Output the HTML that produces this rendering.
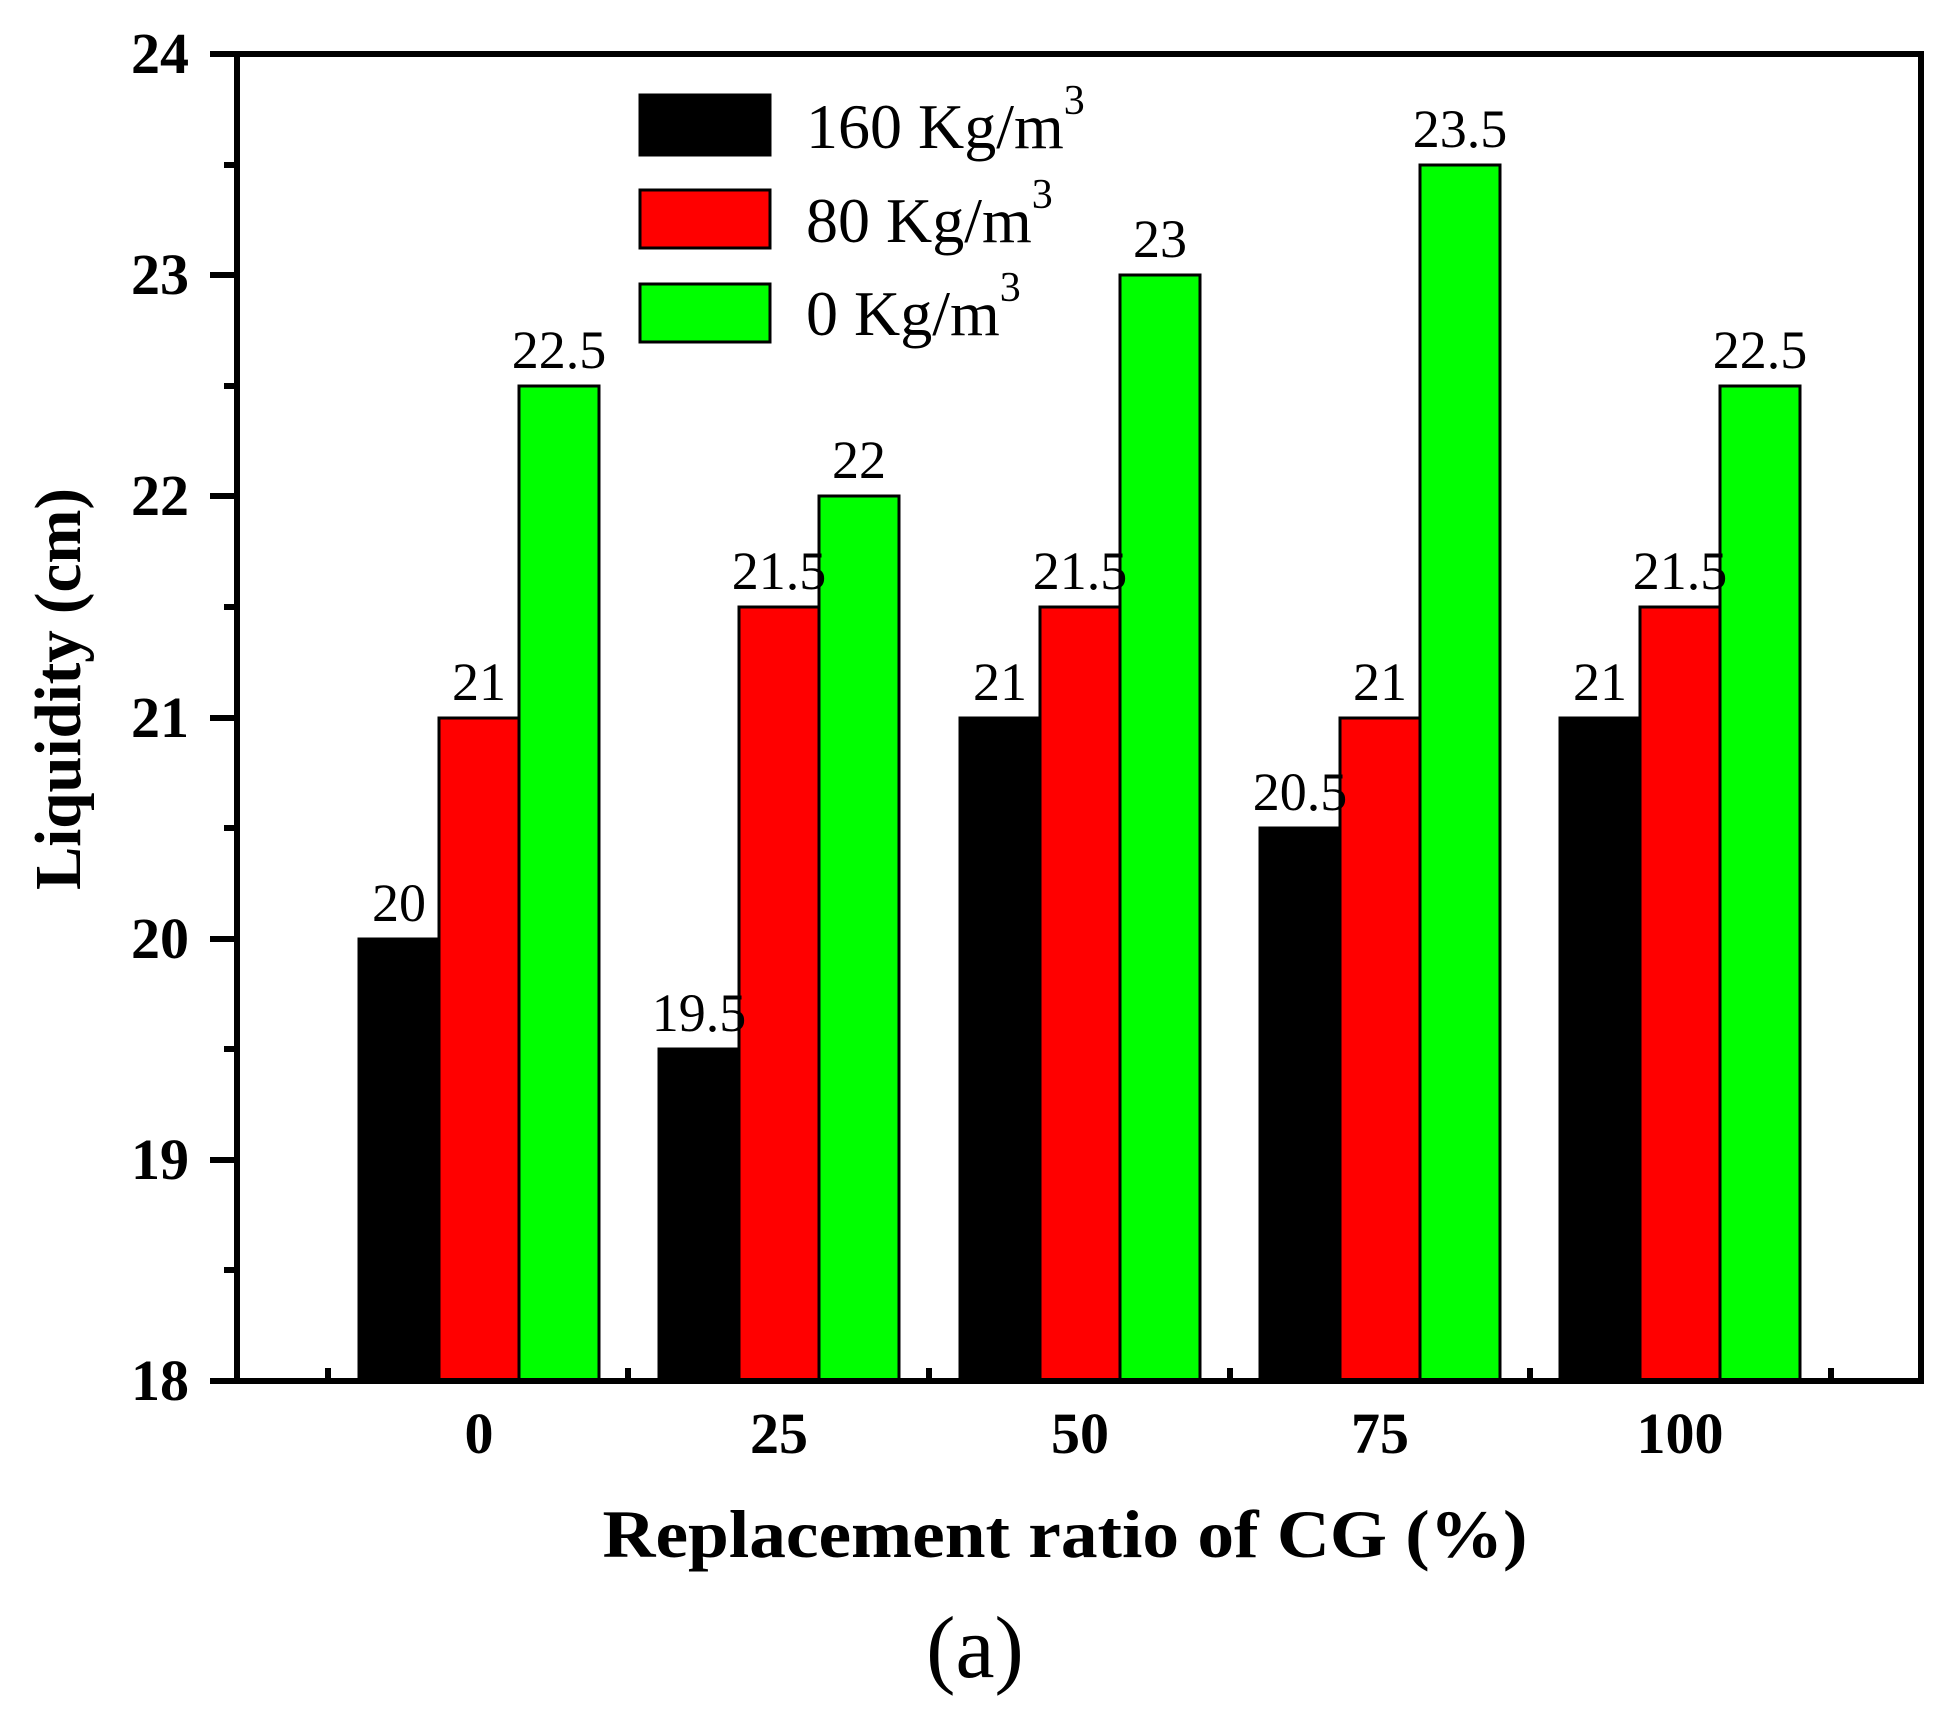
<!DOCTYPE html>
<html><head><meta charset="utf-8"><style>html,body{margin:0;padding:0;background:#fff}svg{display:block}</style></head>
<body>
<svg width="1960" height="1713" viewBox="0 0 1960 1713" xmlns="http://www.w3.org/2000/svg" font-family="'Liberation Serif', serif">
<rect width="1960" height="1713" fill="#fff"/>
<g stroke="#000" stroke-width="3">
<rect x="359" y="939" width="80" height="442" fill="#000"/>
<rect x="439" y="718" width="80" height="663" fill="#f00"/>
<rect x="519" y="386" width="80" height="995" fill="#0f0"/>
<rect x="659" y="1049" width="80" height="332" fill="#000"/>
<rect x="739" y="607" width="80" height="774" fill="#f00"/>
<rect x="819" y="496" width="80" height="885" fill="#0f0"/>
<rect x="960" y="718" width="80" height="663" fill="#000"/>
<rect x="1040" y="607" width="80" height="774" fill="#f00"/>
<rect x="1120" y="275" width="80" height="1106" fill="#0f0"/>
<rect x="1260" y="828" width="80" height="553" fill="#000"/>
<rect x="1340" y="718" width="80" height="663" fill="#f00"/>
<rect x="1420" y="165" width="80" height="1216" fill="#0f0"/>
<rect x="1560" y="718" width="80" height="663" fill="#000"/>
<rect x="1640" y="607" width="80" height="774" fill="#f00"/>
<rect x="1720" y="386" width="80" height="995" fill="#0f0"/>
</g>
<rect x="237" y="54" width="1684" height="1327" fill="none" stroke="#000" stroke-width="6"/>
<g stroke="#000" stroke-width="6">
<line x1="210" y1="54" x2="237" y2="54"/>
<line x1="210" y1="275" x2="237" y2="275"/>
<line x1="210" y1="496" x2="237" y2="496"/>
<line x1="210" y1="718" x2="237" y2="718"/>
<line x1="210" y1="939" x2="237" y2="939"/>
<line x1="210" y1="1160" x2="237" y2="1160"/>
<line x1="210" y1="1381" x2="237" y2="1381"/>
<line x1="224" y1="165" x2="237" y2="165"/>
<line x1="224" y1="386" x2="237" y2="386"/>
<line x1="224" y1="607" x2="237" y2="607"/>
<line x1="224" y1="828" x2="237" y2="828"/>
<line x1="224" y1="1049" x2="237" y2="1049"/>
<line x1="224" y1="1270" x2="237" y2="1270"/>
<line x1="328" y1="1381" x2="328" y2="1368"/>
<line x1="628" y1="1381" x2="628" y2="1368"/>
<line x1="929" y1="1381" x2="929" y2="1368"/>
<line x1="1230" y1="1381" x2="1230" y2="1368"/>
<line x1="1530" y1="1381" x2="1530" y2="1368"/>
<line x1="1831" y1="1381" x2="1831" y2="1368"/>
</g>
<g font-size="58" font-weight="bold" text-anchor="end">
<text x="189" y="73">24</text>
<text x="189" y="294">23</text>
<text x="189" y="515">22</text>
<text x="189" y="737">21</text>
<text x="189" y="958">20</text>
<text x="189" y="1179">19</text>
<text x="189" y="1400">18</text>
</g>
<g font-size="58" font-weight="bold" text-anchor="middle">
<text x="479" y="1453">0</text>
<text x="779" y="1453">25</text>
<text x="1080" y="1453">50</text>
<text x="1380" y="1453">75</text>
<text x="1680" y="1453">100</text>
</g>
<g font-size="54" text-anchor="middle">
<text x="399" y="921">20</text>
<text x="479" y="700">21</text>
<text x="559" y="368">22.5</text>
<text x="699" y="1031">19.5</text>
<text x="779" y="589">21.5</text>
<text x="859" y="478">22</text>
<text x="1000" y="700">21</text>
<text x="1080" y="589">21.5</text>
<text x="1160" y="257">23</text>
<text x="1300" y="810">20.5</text>
<text x="1380" y="700">21</text>
<text x="1460" y="147">23.5</text>
<text x="1600" y="700">21</text>
<text x="1680" y="589">21.5</text>
<text x="1760" y="368">22.5</text>
</g>
<rect x="640" y="95" width="130" height="60" fill="#000" stroke="#000" stroke-width="3"/>
<rect x="640" y="190" width="130" height="58" fill="#f00" stroke="#000" stroke-width="3"/>
<rect x="640" y="284" width="130" height="58" fill="#0f0" stroke="#000" stroke-width="3"/>
<g font-size="64">
<text x="806" y="148">160 Kg/m<tspan font-size="42" dy="-34">3</tspan></text>
<text x="806" y="242">80 Kg/m<tspan font-size="42" dy="-34">3</tspan></text>
<text x="806" y="335">0 Kg/m<tspan font-size="42" dy="-34">3</tspan></text>
</g>
<text x="1065" y="1557" font-size="68" font-weight="bold" text-anchor="middle" textLength="925" lengthAdjust="spacingAndGlyphs">Replacement ratio of CG (%)</text>
<text x="975" y="1677" font-size="88" text-anchor="middle">(a)</text>
<text transform="translate(80,689) rotate(-90)" font-size="66" font-weight="bold" text-anchor="middle" textLength="402" lengthAdjust="spacingAndGlyphs">Liquidity (cm)</text>
</svg>
</body></html>
